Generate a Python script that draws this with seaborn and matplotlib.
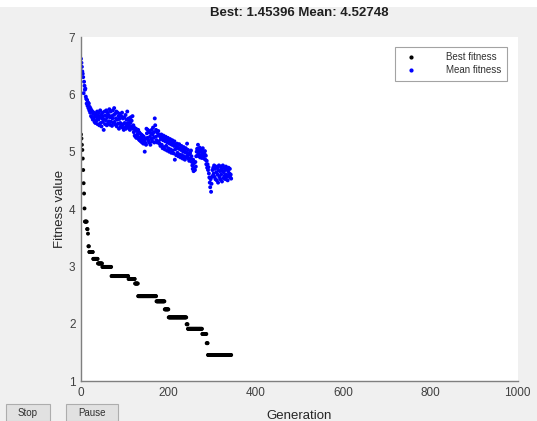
import matplotlib
matplotlib.use('Agg')
import matplotlib.pyplot as plt
from matplotlib.patches import Rectangle
import seaborn as sns
import numpy as np
import pandas as pd

# --- data ---
# best fitness: first generations one by one, then plateaus (level, length)
best_start = [5.30, 5.23, 5.12, 5.03, 4.88, 4.68, 4.45, 4.27, 4.01]
best_levels = [3.78, 3.65, 3.57, 3.35, 3.25, 3.13, 3.05, 2.99, 2.83, 2.78,
               2.70, 2.48, 2.39, 2.25, 2.11, 1.99, 1.91, 1.82, 1.66, 1.45396]
best_lengths = [5, 2, 1, 2, 9, 11, 10, 21, 39, 15,
                7, 42, 19, 9, 41, 3, 33, 10, 3, 54]

mean_fitness = [
    6.62, 6.55, 6.48, 6.40, 6.36, 6.30, 6.02, 6.22, 6.15, 6.08,
    6.10, 5.96, 5.92, 5.84, 5.90, 5.80, 5.86, 5.76, 5.84, 5.72,
    5.78, 5.68, 5.75, 5.62, 5.72, 5.60, 5.70, 5.56, 5.66, 5.58,
    5.68, 5.52, 5.62, 5.50, 5.66, 5.54, 5.60, 5.70, 5.48, 5.63,
    5.56, 5.68, 5.46, 5.60, 5.72, 5.50, 5.64, 5.44, 5.58, 5.68,
    5.52, 5.62, 5.38, 5.56, 5.70, 5.48, 5.63, 5.55, 5.72, 5.46,
    5.60, 5.68, 5.50, 5.64, 5.53, 5.74, 5.47, 5.60, 5.70, 5.52,
    5.62, 5.45, 5.58, 5.72, 5.50, 5.64, 5.76, 5.52, 5.66, 5.47,
    5.58, 5.70, 5.44, 5.56, 5.68, 5.49, 5.62, 5.40, 5.57, 5.66,
    5.50, 5.44, 5.62, 5.47, 5.68, 5.42, 5.58, 5.48, 5.38, 5.60,
    5.50, 5.42, 5.64, 5.40, 5.56, 5.46, 5.70, 5.50, 5.42, 5.58,
    5.45, 5.55, 5.38, 5.50, 5.60, 5.42, 5.54, 5.44, 5.62, 5.40,
    5.46, 5.34, 5.42, 5.28, 5.38, 5.26, 5.40, 5.24, 5.36, 5.30,
    5.26, 5.38, 5.22, 5.34, 5.20, 5.32, 5.25, 5.18, 5.30, 5.22,
    5.16, 5.28, 5.20, 5.14, 5.26, 5.18, 5.00, 5.22, 5.15, 5.12,
    5.40, 5.32, 5.24, 5.38, 5.20, 5.34, 5.16, 5.36, 5.26, 5.12,
    5.32, 5.22, 5.38, 5.18, 5.30, 5.42, 5.24, 5.34, 5.16, 5.58,
    5.46, 5.26, 5.38, 5.20, 5.34, 5.16, 5.28, 5.36, 5.18, 5.30,
    5.14, 5.27, 5.10, 5.22, 5.30, 5.12, 5.25, 5.06, 5.20, 5.28,
    5.08, 5.22, 5.04, 5.18, 5.26, 5.10, 5.20, 5.02, 5.16, 5.24,
    5.06, 5.18, 5.00, 5.14, 5.22, 5.04, 5.16, 4.98, 5.12, 5.20,
    5.02, 5.14, 4.97, 5.10, 5.18, 4.86, 5.04, 5.12, 4.94, 5.08,
    5.14, 4.98, 5.08, 4.92, 5.05, 5.13, 4.95, 5.06, 4.90, 5.03,
    5.10, 4.94, 5.04, 4.88, 5.00, 5.08, 4.92, 5.02, 4.86, 4.99,
    5.06, 4.90, 4.98, 5.14, 4.93, 5.03, 4.88, 4.97, 4.84, 4.95,
    4.98, 4.88, 5.02, 4.92, 4.82, 4.76, 4.70, 4.86, 4.66, 4.80,
    4.72, 4.68, 4.82, 4.74, 4.92, 5.00, 5.05, 4.93, 5.12, 4.96,
    5.02, 4.92, 5.07, 4.90, 5.00, 4.94, 5.04, 4.89, 4.98, 5.06,
    4.92, 5.00, 4.88, 4.96, 5.01, 4.86, 4.93, 4.78, 4.84, 4.72,
    4.78, 4.68, 4.73, 4.62, 4.55, 4.46, 4.38, 4.52, 4.30, 4.44,
    4.56, 4.68, 4.58, 4.72, 4.62, 4.76, 4.56, 4.70, 4.52, 4.74,
    4.64, 4.50, 4.72, 4.60, 4.46, 4.68, 4.76, 4.56, 4.66, 4.52,
    4.74, 4.60, 4.70, 4.48, 4.66, 4.76, 4.54, 4.64, 4.72, 4.58,
    4.68, 4.52, 4.74, 4.60, 4.56, 4.70, 4.50, 4.66, 4.72, 4.57,
    4.62, 4.70, 4.55, 4.60, 4.53,
]

best_fitness = best_start + list(np.repeat(best_levels, best_lengths))

df = pd.concat([
    pd.DataFrame({"Generation": np.arange(len(best_fitness)),
                  "Fitness": best_fitness, "Series": "Best fitness"}),
    pd.DataFrame({"Generation": np.arange(len(mean_fitness)),
                  "Fitness": mean_fitness, "Series": "Mean fitness"}),
], ignore_index=True)

sns.set_theme(style="white")
plt.rcParams['font.family'] = ['Liberation Sans', 'DejaVu Sans']

GRAY_BG = "#f0f0f0"
AX_GRAY = "#7f7f7f"

fig = plt.figure(figsize=(5.37, 4.21), dpi=100, facecolor=GRAY_BG)
# thin white strip at the very top of the window
fig.add_artist(Rectangle((0, 1 - 7 / 421), 1, 7 / 421, transform=fig.transFigure,
                         facecolor="white", edgecolor="none", zorder=0))

ax = fig.add_axes([81 / 537, 40 / 421, 436.5 / 537, 344 / 421])
ax.set_facecolor("white")

sns.scatterplot(data=df, x="Generation", y="Fitness", hue="Series",
                palette={"Best fitness": "black", "Mean fitness": "#0000ff"},
                s=8, linewidth=0, marker="o", ax=ax, legend=False)

ax.set_xlim(0, 1000)
ax.set_ylim(1, 7)
ax.set_xticks(range(0, 1001, 200))
ax.set_yticks(range(1, 8))

for side in ["top", "right"]:
    ax.spines[side].set_visible(False)
for side in ["left", "bottom"]:
    ax.spines[side].set_color(AX_GRAY)
    ax.spines[side].set_linewidth(1.0)

ax.tick_params(direction="in", length=3, width=0.8, color=AX_GRAY,
               labelsize=8.5, labelcolor="#404040", pad=4)

ax.set_title("Best: 1.45396 Mean: 4.52748", fontsize=9.5, fontweight="bold",
             color="#202020", pad=15)
ax.set_xlabel("Generation", fontsize=9.5, color="#262626", labelpad=8)
ax.set_ylabel("Fitness value", fontsize=9.5, color="#262626", labelpad=2)

# legend with dot markers
handles = [
    plt.Line2D([], [], linestyle="none", marker=".", color="black", markersize=4),
    plt.Line2D([], [], linestyle="none", marker=".", color="#0000ff", markersize=4),
]
leg = ax.legend(handles, ["Best fitness", "Mean fitness"], loc="upper right",
                bbox_to_anchor=(0.975, 0.972), fontsize=7, frameon=True,
                fancybox=False, borderpad=0.6, handletextpad=2.6,
                labelspacing=0.3, borderaxespad=0)
leg.get_frame().set_edgecolor("#8c8c8c")
leg.get_frame().set_linewidth(0.8)
for t in leg.get_texts():
    t.set_color("#303030")

# Stop / Pause buttons of the GA window
for label, x0, w in [("Stop", 6, 44), ("Pause", 66, 52)]:
    fig.add_artist(Rectangle((x0 / 537, 0), w / 537, 17 / 421,
                             transform=fig.transFigure, facecolor="#e1e1e1",
                             edgecolor="#adadad", linewidth=0.8))
    fig.text((x0 + w / 2) / 537, 8.5 / 421, label, ha="center", va="center",
             fontsize=7, color="#303030")

fig.savefig("out.png", dpi=100, facecolor=GRAY_BG)
